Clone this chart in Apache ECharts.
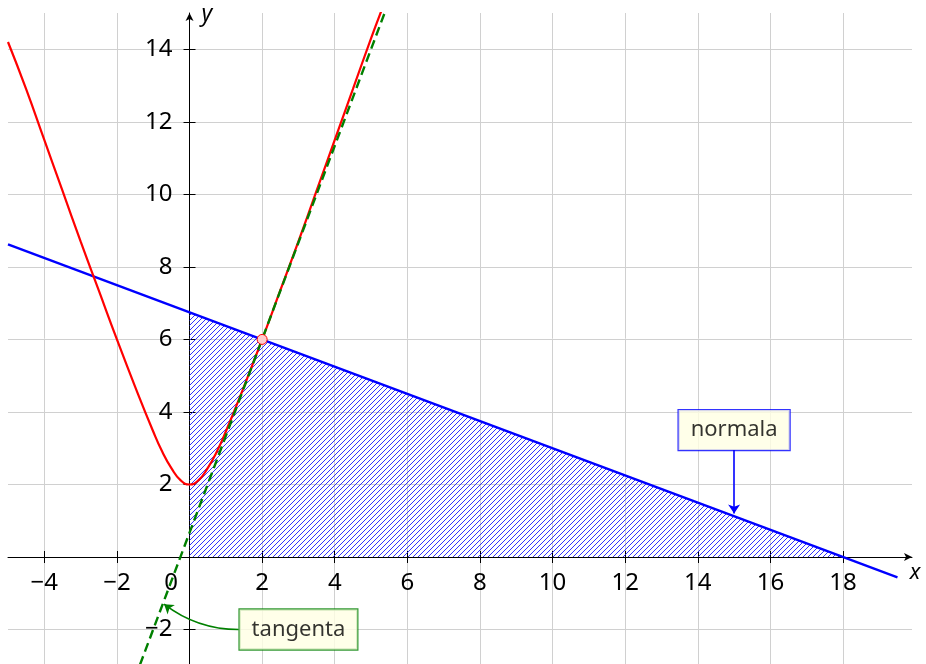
<!DOCTYPE html>
<html><head><meta charset="utf-8">
<script src="https://cdn.jsdelivr.net/npm/echarts@6/dist/echarts.min.js"></script>
<style>html,body{margin:0;padding:0;background:#fff}#c{width:926px;height:664px}</style>
</head><body><div id="c"></div>
<script>
// ---- data ----
const xTicks = [-4, -2, 0, 2, 4, 6, 8, 10, 12, 14, 16, 18];
const yTicks = [-2, 2, 4, 6, 8, 10, 12, 14];
const curveX = [-5, -4.5, -4, -3.5, -3, -2.5, -2, -1.5, -1, -0.75, -0.5, -0.25, 0, 0.25, 0.5, 0.75, 1, 1.5, 2, 2.5, 3, 3.5, 4, 4.5, 5, 5.3];
const curveY = [14.2, 12.9, 11.5, 10.1, 8.7, 7.35, 6.0, 4.7, 3.46, 2.9, 2.45, 2.12, 2.0, 2.12, 2.45, 2.9, 3.46, 4.7, 6.0, 7.35, 8.7, 10.1, 11.5, 12.9, 14.3, 15.1];
const tangentLine = [[-1.5, -3.33], [5.4, 15.07]];
const normalLine = [[-5, 8.62], [19.5, -0.56]];
const hatchedRegion = [[0, 6.75], [18, 0]];
const touchPoint = [[2, 6]];
const noteNames = ['normala', 'tangenta'];
const notePoints = [[15, 3.5], [3, -2]];
const noteArrows = [[[15, 2.95], [15, 1.2]], [[1.35, -2.0], [-0.7, -1.3]]];
const xRange = [-5, 19.9];
const yRange = [-2.95, 15];

// ---- layout & styles ----
const W = 926, H = 664;
const G = { left: 8, right: 14, top: 13, bottom: 0 };
const gw = W - G.left - G.right, gh = H - G.top - G.bottom;
// axes cross at the origin: shift them inward from the grid edges
const xAxisOffset = -gh * (0 - yRange[0]) / (yRange[1] - yRange[0]);
const yAxisOffset = -gw * (0 - xRange[0]) / (xRange[1] - xRange[0]);

const FONT = 'Noto Sans';
const pat = document.createElement('canvas');
pat.width = 5; pat.height = 5;
const pc = pat.getContext('2d');
pc.strokeStyle = '#1a1aff'; pc.lineWidth = 0.9;
pc.beginPath();
pc.moveTo(0, 5); pc.lineTo(5, 0);
pc.moveTo(-1, 1); pc.lineTo(1, -1);
pc.moveTo(4, 6); pc.lineTo(6, 4);
pc.stroke();

function fmt(v) { return v < 0 ? '\u2212' + Math.abs(v) : String(v); }
const tickStyle = { color: '#000', width: 1 };
const labelBase = { fontFamily: FONT, fontSize: 24, color: '#000' };

const chart = echarts.init(document.getElementById('c'));
chart.setOption({
  animation: false,
  grid: Object.assign({ containLabel: false, outerBoundsMode: 'none' }, G),
  xAxis: [{
    type: 'value', min: xRange[0], max: xRange[1], position: 'bottom', offset: xAxisOffset,
    axisLine: { onZero: false, symbol: ['none', 'arrow'], symbolSize: [6, 8], lineStyle: { color: '#000', width: 1 } },
    axisTick: { show: true, inside: false, length: 6, customValues: xTicks, lineStyle: tickStyle },
    axisLabel: Object.assign({ customValues: xTicks, margin: 14,
      formatter: v => v === 0 ? '{z|0}' : fmt(v),
      rich: { z: Object.assign({ padding: [0, 37, 0, 0] }, labelBase) } }, labelBase),
    splitLine: { show: true, lineStyle: { color: '#d0d0d0', width: 1 } },
    name: 'x', nameLocation: 'end', nameGap: 3,
    nameTextStyle: { fontFamily: FONT, fontSize: 22, fontStyle: 'italic', color: '#000', align: 'center', verticalAlign: 'top', lineHeight: 32 }
  }, {
    type: 'value', min: xRange[0], max: xRange[1], position: 'bottom', offset: xAxisOffset,
    axisLine: { show: false, onZero: false },
    axisTick: { show: true, inside: true, length: 6, customValues: xTicks, lineStyle: tickStyle },
    axisLabel: { show: false }, splitLine: { show: false }
  }],
  yAxis: [{
    type: 'value', min: yRange[0], max: yRange[1], position: 'left', offset: yAxisOffset,
    axisLine: { onZero: false, symbol: ['none', 'arrow'], symbolSize: [6, 8], lineStyle: { color: '#000', width: 1 } },
    axisTick: { show: true, inside: false, length: 6, customValues: yTicks, lineStyle: tickStyle },
    axisLabel: Object.assign({ customValues: yTicks, margin: 17, formatter: fmt }, labelBase),
    splitLine: { show: true, lineStyle: { color: '#d0d0d0', width: 1 } },
    name: 'y', nameLocation: 'end', nameGap: -1,
    nameTextStyle: { fontFamily: FONT, fontSize: 23, fontStyle: 'italic', color: '#000', align: 'left', verticalAlign: 'middle', padding: [0, 0, 0, 12] }
  }, {
    type: 'value', min: yRange[0], max: yRange[1], position: 'left', offset: yAxisOffset,
    axisLine: { show: false, onZero: false },
    axisTick: { show: true, inside: true, length: 6, customValues: yTicks, lineStyle: tickStyle },
    axisLabel: { show: false }, splitLine: { show: false }
  }],
  series: [
    { type: 'line', data: hatchedRegion, symbol: 'none', silent: true, z: 1,
      lineStyle: { width: 0 }, areaStyle: { color: { image: pat, repeat: 'repeat' }, opacity: 1 } },
    { type: 'line', data: normalLine, symbol: 'none', z: 2, lineStyle: { color: '#0000ff', width: 2.4 } },
    { type: 'line', data: curveX.map((x, i) => [x, curveY[i]]), smooth: true, symbol: 'none', z: 3,
      lineStyle: { color: '#ff0000', width: 2.2 } },
    { type: 'line', data: tangentLine, symbol: 'none', z: 4,
      lineStyle: { color: '#008000', width: 2.4, type: [9, 5] } },
    { type: 'scatter', data: touchPoint, symbol: 'circle', symbolSize: 10, z: 6,
      itemStyle: { color: '#ffcccc', borderColor: '#ff0000', borderWidth: 1, opacity: 1 } },
    { type: 'lines', coordinateSystem: 'cartesian2d', z: 7, symbol: ['none', 'arrow'], symbolSize: 9,
      data: [{ coords: noteArrows[0] }], lineStyle: { color: '#0000ff', width: 1.6, curveness: 0, opacity: 1 } },
    { type: 'lines', coordinateSystem: 'cartesian2d', z: 7, symbol: ['none', 'arrow'], symbolSize: 9,
      data: [{ coords: noteArrows[1] }], lineStyle: { color: '#008000', width: 1.6, curveness: 0.17, opacity: 1 } },
    { type: 'scatter', symbolSize: 0, z: 8,
      data: noteNames.map((n, i) => ({ name: n, value: notePoints[i],
        label: { borderColor: i === 0 ? '#0000ff' : '#008000' } })),
      label: { show: true, position: 'inside', formatter: p => p.name, fontFamily: FONT, fontSize: 22, color: '#000',
        backgroundColor: '#ffffe3', borderWidth: 1.2, padding: [9, 12, 9, 12] } }
  ]
});
</script></body></html>
